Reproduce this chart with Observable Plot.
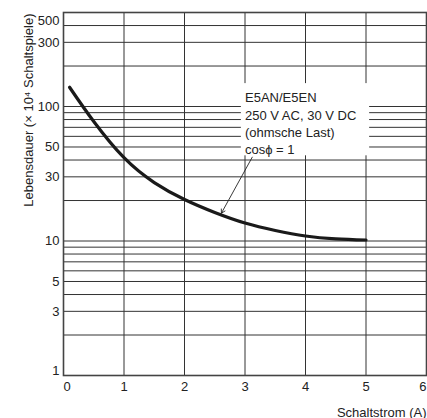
<!DOCTYPE html>
<html><head><meta charset="utf-8">
<script src="https://cdn.jsdelivr.net/npm/d3@7"></script>
<script src="https://cdn.jsdelivr.net/npm/@observablehq/plot@0.6"></script>
<style>body{margin:0;background:#fff} svg{display:block}</style>
</head><body><div id="chart"></div>
<script>
const currentA = [0.1, 0.5, 1, 1.5, 2, 2.5, 3, 3.5, 4, 4.5, 5];
const lifeCycles = [139, 77.3, 41.6, 27.2, 20.35, 16.3, 13.6, 11.97, 10.9, 10.38, 10.17];
const xTicksMid = [1, 2, 3, 4, 5];
const xTickFirst = [0];
const xTickLast = [6];
const yTicksMid = [3, 5, 10, 30, 50, 100, 300];
const yTickFirst = [1];
const yTickLast = [500];
const xGrid = [1, 2, 3, 4, 5];
const yGrid = [2, 3, 4, 5, 6, 7, 8, 9, 10, 20, 30, 40, 50, 60, 70, 80, 90, 100, 200, 300, 400];
const noteLines = ["E5AN/E5EN", "250 V AC, 30 V DC", "(ohmsche Last)", "cosϕ = 1"];
const noteBox = [{x1: 2.94, x2: 5.06, y1: 43, y2: 148}];
const noteAnchor = [{x: 3.0, y: 132}];
const arrowPts = [{x1: 3.12, y1: 42, x2: 2.61, y2: 16.1}];
const xLabel = "Schaltstrom (A)";
const yLabel = "Lebensdauer (× 10⁴ Schaltspiele)";

const curve = currentA.map((x, i) => ({x, y: lifeCycles[i]}));
const font = '"Liberation Sans", Arial, Helvetica, sans-serif';
const fmt = d => String(d);
const txt = {fontSize: 13, fill: "#222"};

const chart = Plot.plot({
  width: 427, height: 418,
  marginLeft: 63, marginRight: 1, marginTop: 12, marginBottom: 43,
  style: {fontFamily: font, fontSize: "13px", color: "#222", background: "#fff"},
  x: {domain: [0, 6], axis: null},
  y: {type: "log", domain: [1, 500], axis: null},
  marks: [
    Plot.ruleX(xGrid, {stroke: "#333", strokeWidth: 1}),
    Plot.ruleY(yGrid, {stroke: "#333", strokeWidth: 1}),
    Plot.rect(noteBox, {x1: "x1", x2: "x2", y1: "y1", y2: "y2", fill: "white"}),
    Plot.text(noteAnchor, {x: "x", y: "y", text: () => noteLines.join("\n"), textAnchor: "start", lineAnchor: "top", lineHeight: 1.32, ...txt}),
    Plot.arrow(arrowPts, {x1: "x1", y1: "y1", x2: "x2", y2: "y2", headLength: 7, strokeWidth: 0.9, stroke: "#222"}),
    Plot.line(curve, {x: "x", y: "y", curve: "natural", strokeWidth: 3.2, stroke: "#1a1a1a"}),
    Plot.frame({stroke: "#444", strokeWidth: 1.6}),
    Plot.text(yTicksMid, {y: d => d, text: fmt, frameAnchor: "left", dx: -4, textAnchor: "end", lineAnchor: "middle", ...txt}),
    Plot.text(yTickFirst, {y: d => d, text: fmt, frameAnchor: "left", dx: -4, dy: -1, textAnchor: "end", lineAnchor: "bottom", ...txt}),
    Plot.text(yTickLast, {y: d => d, text: fmt, frameAnchor: "left", dx: -4, dy: 3, textAnchor: "end", lineAnchor: "top", ...txt}),
    Plot.text(xTicksMid, {x: d => d, text: fmt, frameAnchor: "bottom", dy: 6, lineAnchor: "top", ...txt}),
    Plot.text(xTickFirst, {x: d => d, text: fmt, frameAnchor: "bottom", dy: 6, lineAnchor: "top", textAnchor: "start", ...txt}),
    Plot.text(xTickLast, {x: d => d, text: fmt, frameAnchor: "bottom", dy: 6, lineAnchor: "top", textAnchor: "end", ...txt}),
    Plot.text([yLabel], {frameAnchor: "top-left", rotate: -90, dx: -31, dy: 1, textAnchor: "end", lineAnchor: "bottom", ...txt}),
    Plot.text([xLabel], {frameAnchor: "bottom-right", dy: 41, textAnchor: "end", lineAnchor: "bottom", ...txt})
  ]
});
document.getElementById("chart").appendChild(chart);
</script>
</body></html>
